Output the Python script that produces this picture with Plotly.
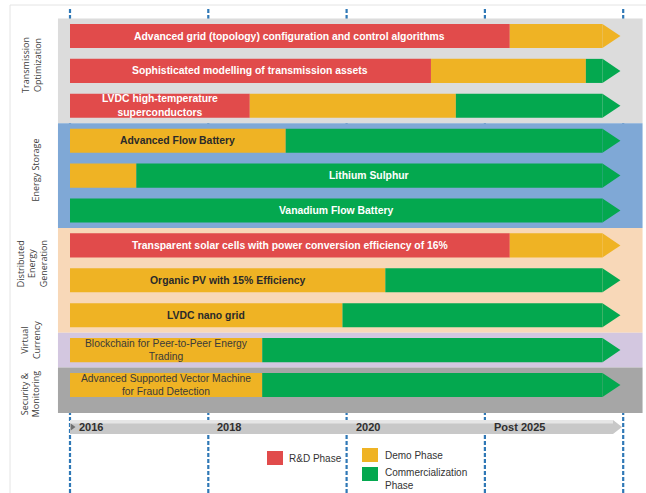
import plotly.graph_objects as go

# ---------------- data ----------------
row_labels = [
    "Advanced grid (topology) configuration and control algorithms",
    "Sophisticated modelling of transmission assets",
    "LVDC high-temperature<br>superconductors",
    "Advanced Flow Battery",
    "Lithium Sulphur",
    "Vanadium Flow Battery",
    "Transparent solar cells with power conversion efficiency of 16%",
    "Organic PV with 15% Efficiency",
    "LVDC nano grid",
    "Blockchain for Peer-to-Peer Energy<br>Trading",
    "Advanced Supported Vector Machine<br>for Fraud Detection",
]
label_phase = ["rd", "rd", "rd", "demo", "com", "com", "rd", "demo", "demo", "demo", "demo"]
# phase end positions on the time scale (0=2016, 1=2018, 2=2020, 3=Post 2025)
rd_end = [3.18, 2.61, 1.30, 0.0, 0.0, 0.0, 3.18, 0.0, 0.0, 0.0, 0.0]
demo_end = [3.85, 3.73, 2.79, 1.56, 0.48, 0.0, 3.85, 2.28, 1.97, 1.39, 1.39]
timeline_end = 3.85

group_names = ["Transmission<br>Optimization", "Energy Storage",
               "Distributed<br>Energy<br>Generation", "Virtual<br>Currency",
               "Security &<br>Monitoring"]
group_first_row = [0, 3, 6, 9, 10]
group_last_row = [2, 5, 8, 9, 10]

tick_labels = ["2016", "2018", "2020", "Post 2025"]
tick_pos = [0, 1, 2, 3]
grid_pos = [0, 1, 2, 3, 4]

legend_names = ["R&D Phase", "Demo Phase", "Commercialization<br>Phase"]

# ---------------- style ----------------
W, H = 646, 493
PX_PER_X = 138.3
PX_PER_ROW = 34.9
X0_PX, Y0_PX = 70, 36
xr = [-X0_PX / PX_PER_X, (W - X0_PX) / PX_PER_X]
yr = [(H - Y0_PX) / PX_PER_ROW, -Y0_PX / PX_PER_ROW]

C = {"rd": "#E14B4B", "demo": "#EFB324", "com": "#04A84F"}
band_colors = ["#DCDCDC", "#7FA8D6", "#F8D8B8", "#D3C7E0", "#A6A6A6"]
label_yshift = [-6, -5, -16, -10, 4]
group_label_x = [32, 36, 32, 30, 30]
BAR_H = 0.69
TIP = 0.13
FONT = "Liberation Sans, Arial, sans-serif"


def px(xp):
    return xp / W


def py(yp):
    return 1 - yp / H


fig = go.Figure()

# bars
for i in range(len(row_labels)):
    segs = []
    if rd_end[i] > 0:
        segs.append(("rd", 0.0, rd_end[i]))
    if demo_end[i] > rd_end[i]:
        segs.append(("demo", rd_end[i], demo_end[i]))
    if timeline_end > demo_end[i]:
        segs.append(("com", demo_end[i], timeline_end))
    for ph, a, b in segs:
        fig.add_trace(go.Bar(
            orientation="h", y=[i], x=[b - a], base=[a], width=BAR_H,
            marker=dict(color=C[ph], line=dict(width=0)),
            showlegend=False, hoverinfo="skip"))
    last = segs[-1][0]
    fig.add_trace(go.Scatter(
        x=[timeline_end, timeline_end + TIP, timeline_end, timeline_end],
        y=[i - BAR_H / 2, i, i + BAR_H / 2, i - BAR_H / 2],
        fill="toself", fillcolor=C[last], mode="lines",
        line=dict(width=0, color=C[last]), showlegend=False, hoverinfo="skip"))
    # label
    for ph, a, b in segs:
        if ph == label_phase[i]:
            cx = (a + b) / 2
            break
    color = "#2a2a2a" if ph == "demo" else "white"
    bold = i < 9
    txt = f"<b>{row_labels[i]}</b>" if bold else row_labels[i]
    fig.add_annotation(x=cx, y=i, text=txt, showarrow=False,
                       font=dict(family=FONT, size=10.4 if bold else 10.3,
                                 color=color if bold else "#3a3a3a"),
                       xanchor="center", yanchor="middle")

shapes = []
# frame
shapes.append(dict(type="rect", xref="paper", yref="paper", x0=px(10), x1=px(W + 5),
                   y0=py(H + 5), y1=py(5), line=dict(color="#E4E4E4", width=1),
                   layer="below"))
# bands
for k in range(len(group_names)):
    top = group_first_row[k] - 0.5
    bot = group_last_row[k] + (0.8 if k == len(group_names) - 1 else 0.5)
    shapes.append(dict(type="rect", xref="x", yref="y", x0=-0.087, x1=4.14,
                       y0=top, y1=bot, fillcolor=band_colors[k],
                       line=dict(width=0), layer="below"))
    yc = (top + bot) / 2
    fig.add_annotation(xref="paper", yref="y", x=px(group_label_x[k]), y=yc,
                       text=group_names[k], textangle=-90, showarrow=False,
                       xanchor="center", yanchor="middle",
                       yshift=-label_yshift[k],
                       font=dict(family="Open Sans, sans-serif", size=9, color="#404040"))

# timeline arrow
ty0, ty1 = (420 - Y0_PX) / PX_PER_ROW, (434 - Y0_PX) / PX_PER_ROW
tmid = (ty0 + ty1) / 2
tx1 = (613 - X0_PX) / PX_PER_X
ttip = (622 - X0_PX) / PX_PER_X
shapes.append(dict(type="path", xref="x", yref="y",
                   path=f"M 0,{ty0} L {tx1},{ty0} L {ttip},{tmid} L {tx1},{ty1} L 0,{ty1} Z",
                   fillcolor="#C8C8C8", line=dict(width=0), layer="below"))
shapes.append(dict(type="rect", xref="x", yref="y", x0=0, x1=tx1,
                   y0=ty0, y1=ty0 + 0.1, fillcolor="#E6E6E6",
                   line=dict(width=0), layer="below"))
shapes.append(dict(type="path", xref="x", yref="y",
                   path=f"M 0.005,{tmid - 0.1} L 0.04,{tmid} L 0.005,{tmid + 0.1} Z",
                   fillcolor="#707070", line=dict(width=0), layer="below"))

# dashed grid lines
for g in grid_pos:
    shapes.append(dict(type="line", xref="x", yref="paper", x0=g, x1=g,
                       y0=py(H), y1=py(7),
                       line=dict(color="#2F78B6", width=2.2, dash="4px,2px"),
                       layer="below"))

# tick labels
for p, t in zip(tick_pos, tick_labels):
    fig.add_annotation(x=p, y=tmid, text=f"<b>{t}</b>", showarrow=False,
                       xanchor="left", yanchor="middle", xshift=7,
                       font=dict(family=FONT, size=11, color="#2f2f2f"))

# legend
leg = [("rd", 267, 451, 287, 458), ("demo", 362, 448, 383, 455), ("com", 362, 467, 383, 479)]
for (ph, sx, sy, tx, tyc), name in zip(leg, legend_names):
    shapes.append(dict(type="rect", xref="paper", yref="paper", x0=px(sx), x1=px(sx + 16),
                       y0=py(sy + 14), y1=py(sy), fillcolor=C[ph], line=dict(width=0)))
    fig.add_annotation(xref="paper", yref="paper", x=px(tx), y=py(tyc), text=name,
                       showarrow=False, xanchor="left", yanchor="middle", align="left",
                       font=dict(family=FONT, size=10, color="#333333"))

fig.update_layout(
    width=W, height=H, margin=dict(l=0, r=0, t=0, b=0),
    paper_bgcolor="white", plot_bgcolor="white", barmode="overlay",
    shapes=shapes, showlegend=False,
    xaxis=dict(range=xr, visible=False, fixedrange=True),
    yaxis=dict(range=yr, visible=False, fixedrange=True),
)

fig.write_html("out.html")
